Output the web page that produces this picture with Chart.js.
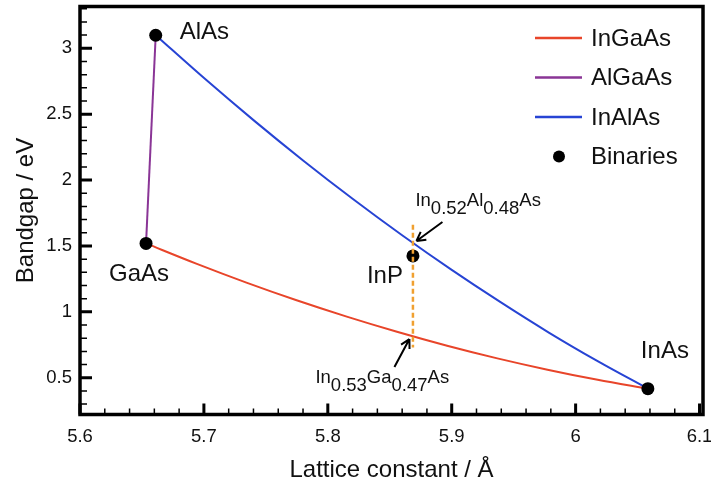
<!DOCTYPE html>
<html>
<head>
<meta charset="utf-8">
<script src="https://cdn.jsdelivr.net/npm/chart.js@4.4.0/dist/chart.umd.min.js"></script>
<style>
  html, body { margin: 0; padding: 0; background: #fff; }
  #wrap { width: 711px; height: 485px; }
</style>
</head>
<body>
<div id="wrap"><canvas id="bandgapChart" width="711" height="485"></canvas></div>
<script>
// Bandgap vs lattice constant for the III-V ternaries
const ingaasLattice = [5.6533, 5.6938, 5.7343, 5.7748, 5.8153, 5.8558, 5.8963, 5.9368, 5.9773, 6.0178, 6.0583];
const ingaasGap     = [1.519, 1.366, 1.222, 1.088, 0.964, 0.849, 0.743, 0.647, 0.561, 0.484, 0.417];

const algaasLattice = [5.6533, 5.6611];
const algaasGap     = [1.519, 3.099];

const inalasLattice = [5.6611, 5.7008, 5.7405, 5.7803, 5.8200, 5.8597, 5.8994, 5.9391, 5.9787, 6.0185, 6.0583];
const inalasGap     = [3.099, 2.768, 2.451, 2.147, 1.858, 1.583, 1.322, 1.075, 0.841, 0.622, 0.417];

const binaryNames   = ['GaAs', 'AlAs', 'InP', 'InAs'];
const binaryLattice = [5.6533, 5.6611, 5.8687, 6.0583];
const binaryGap     = [1.519, 3.099, 1.424, 0.417];

// InP lattice-matched line and the two compositions on it
const matchLattice = [5.8687, 5.8687];
const matchGap     = [1.66, 0.73];
const alloyParts   = [
  [['In', 0], ['0.52', 1], ['Al', 0], ['0.48', 1], ['As', 0]],
  [['In', 0], ['0.53', 1], ['Ga', 0], ['0.47', 1], ['As', 0]]
];
const alloyLattice = [5.8687, 5.8687];
const alloyGap     = [1.53, 0.816];

const xTickValues = [5.6, 5.7, 5.8, 5.9, 6.0, 6.1];
const xTickLabels = ['5.6', '5.7', '5.8', '5.9', '6', '6.1'];
const yTickValues = [0.5, 1, 1.5, 2, 2.5, 3];
const yTickLabels = ['0.5', '1', '1.5', '2', '2.5', '3'];

const FONT = '"Liberation Sans", Arial, Helvetica, sans-serif';
const INK = '#111';

const toPoints = (xs, ys) => xs.map((x, i) => ({ x: x, y: ys[i] }));

// label placement around each binary dot (pixels)
const binaryLabelOffset = {
  GaAs: [-37, 31],
  AlAs: [24, -2.5],
  InP: [-46, 20],
  InAs: [-7, -37]
};
// text and arrow placement around each alloy point (pixels)
const alloyLayout = [
  { text: [2.5, -36], tail: [29.5, -20], tip: [3.5, -1] },
  { text: [-97.5, 47], tail: [-18.5, 31], tip: [-3.5, 3] }
];

const frameAndTicks = {
  id: 'frameAndTicks',
  afterDatasetsDraw(chart) {
    const { ctx, chartArea: a, scales: { x, y } } = chart;
    ctx.save();
    ctx.strokeStyle = '#000';
    ctx.lineCap = 'butt';
    // minor ticks
    ctx.lineWidth = 1.5;
    ctx.beginPath();
    for (let v = 5.62; v < 6.1; v += 0.02) {
      const px = x.getPixelForValue(v);
      ctx.moveTo(px, a.bottom); ctx.lineTo(px, a.bottom - 6);
    }
    for (let v = 0.3; v < 3.31; v += 0.1) {
      const py = y.getPixelForValue(v);
      ctx.moveTo(a.left, py); ctx.lineTo(a.left + 7, py);
    }
    ctx.stroke();
    // major ticks
    ctx.lineWidth = 3;
    ctx.beginPath();
    xTickValues.forEach(v => {
      const px = x.getPixelForValue(v);
      ctx.moveTo(px, a.bottom); ctx.lineTo(px, a.bottom - 11);
    });
    yTickValues.forEach(v => {
      const py = y.getPixelForValue(v);
      ctx.moveTo(a.left, py); ctx.lineTo(a.left + 12, py);
    });
    ctx.stroke();
    // frame
    ctx.lineWidth = 3.5;
    ctx.strokeRect(a.left, a.top, a.right - a.left, a.bottom - a.top);

    // axis titles
    ctx.fillStyle = INK;
    ctx.font = '24px ' + FONT;
    ctx.textAlign = 'center';
    ctx.textBaseline = 'alphabetic';
    ctx.fillText('Lattice constant / Å', (a.left + a.right) / 2, 477);
    ctx.translate(33, (a.top + a.bottom) / 2);
    ctx.rotate(-Math.PI / 2);
    ctx.fillText('Bandgap / eV', 0, 0);
    ctx.restore();
  }
};

const annotations = {
  id: 'annotations',
  afterDatasetsDraw(chart) {
    const { ctx, scales: { x, y } } = chart;
    ctx.save();
    ctx.fillStyle = INK;

    // binary compound names
    ctx.font = '24px ' + FONT;
    ctx.textAlign = 'left';
    ctx.textBaseline = 'middle';
    binaryNames.forEach((name, i) => {
      const off = binaryLabelOffset[name];
      ctx.fillText(name,
        x.getPixelForValue(binaryLattice[i]) + off[0],
        y.getPixelForValue(binaryGap[i]) + off[1]);
    });

    // alloy compositions with arrows
    ctx.font = '18.5px ' + FONT;
    ctx.textBaseline = 'alphabetic';
    ctx.strokeStyle = '#000';
    ctx.lineWidth = 2;
    alloyParts.forEach((parts, i) => {
      const px = x.getPixelForValue(alloyLattice[i]);
      const py = y.getPixelForValue(alloyGap[i]);
      const lay = alloyLayout[i];
      let tx = px + lay.text[0];
      const ty = py + lay.text[1];
      parts.forEach(([s, sub]) => {
        ctx.fillText(s, tx, ty + (sub ? 8 : 0));
        tx += ctx.measureText(s).width;
      });
      const x0 = px + lay.tail[0], y0 = py + lay.tail[1];
      const x1 = px + lay.tip[0], y1 = py + lay.tip[1];
      const ang = Math.atan2(y1 - y0, x1 - x0);
      ctx.beginPath();
      ctx.moveTo(x0, y0); ctx.lineTo(x1, y1);
      [-0.5, 0.5].forEach(d => {
        ctx.moveTo(x1, y1);
        ctx.lineTo(x1 - 10 * Math.cos(ang + d), y1 - 10 * Math.sin(ang + d));
      });
      ctx.stroke();
    });
    ctx.restore();
  }
};

const legendBox = {
  id: 'legendBox',
  afterDraw(chart) {
    const { ctx, chartArea: a } = chart;
    const items = chart.data.datasets.filter(d => d.inLegend);
    ctx.save();
    ctx.font = '24px ' + FONT;
    ctx.textAlign = 'left';
    ctx.textBaseline = 'middle';
    items.forEach((d, i) => {
      const yy = a.top + 31.5 + i * 39.5;
      const x0 = a.right - 168;
      if (d.showLine) {
        ctx.strokeStyle = d.borderColor;
        ctx.lineWidth = 2.5;
        ctx.beginPath();
        ctx.moveTo(x0, yy); ctx.lineTo(x0 + 47, yy);
        ctx.stroke();
      } else {
        ctx.fillStyle = d.pointBackgroundColor;
        ctx.beginPath();
        ctx.arc(x0 + 24, yy, 6, 0, Math.PI * 2);
        ctx.fill();
      }
      ctx.fillStyle = INK;
      ctx.fillText(d.label, x0 + 56, yy + 1);
    });
    ctx.restore();
  }
};

const lineSet = (label, xs, ys, color, order) => ({
  label: label,
  data: toPoints(xs, ys),
  showLine: true,
  borderColor: color,
  borderWidth: 2,
  pointRadius: 0,
  cubicInterpolationMode: 'monotone',
  inLegend: true,
  order: order
});

new Chart(document.getElementById('bandgapChart'), {
  type: 'scatter',
  data: {
    datasets: [
      lineSet('InGaAs', ingaasLattice, ingaasGap, '#e8452a', 3),
      lineSet('AlGaAs', algaasLattice, algaasGap, '#8a3596', 3),
      lineSet('InAlAs', inalasLattice, inalasGap, '#2744d4', 3),
      {
        label: 'Binaries',
        data: toPoints(binaryLattice, binaryGap),
        showLine: false,
        pointRadius: 6.5,
        pointBackgroundColor: '#000',
        pointBorderWidth: 0,
        inLegend: true,
        order: 2
      },
      {
        label: 'lattice matched to InP',
        data: toPoints(matchLattice, matchGap),
        showLine: true,
        borderColor: '#f0a030',
        borderWidth: 2.5,
        borderDash: [5, 3],
        pointRadius: 0,
        inLegend: false,
        order: 1
      }
    ]
  },
  options: {
    responsive: false,
    devicePixelRatio: 1,
    animation: false,
    layout: { padding: { top: 2, right: 8, left: 0, bottom: 0 } },
    plugins: { legend: { display: false }, tooltip: { enabled: false } },
    scales: {
      x: {
        type: 'linear',
        min: 5.6,
        max: 6.1028,
        afterBuildTicks: s => { s.ticks = xTickValues.map(v => ({ value: v })); },
        afterFit: s => { s.height = 70.5; s.paddingLeft = 0; s.paddingRight = 0; },
        grid: { display: false, drawTicks: false },
        border: { display: false },
        ticks: {
          callback: (v, i) => xTickLabels[i],
          font: { family: FONT, size: 18.5 },
          color: INK,
          padding: 11,
          maxRotation: 0,
          autoSkip: false
        }
      },
      y: {
        type: 'linear',
        min: 0.221,
        max: 3.317,
        afterBuildTicks: s => { s.ticks = yTickValues.map(v => ({ value: v })); },
        afterFit: s => { s.width = 80; s.paddingTop = 0; s.paddingBottom = 0; },
        grid: { display: false, drawTicks: false },
        border: { display: false },
        ticks: {
          callback: (v, i) => yTickLabels[i],
          font: { family: FONT, size: 18.5 },
          color: INK,
          padding: 8,
          autoSkip: false
        }
      }
    }
  },
  plugins: [frameAndTicks, annotations, legendBox]
});
</script>
</body>
</html>
